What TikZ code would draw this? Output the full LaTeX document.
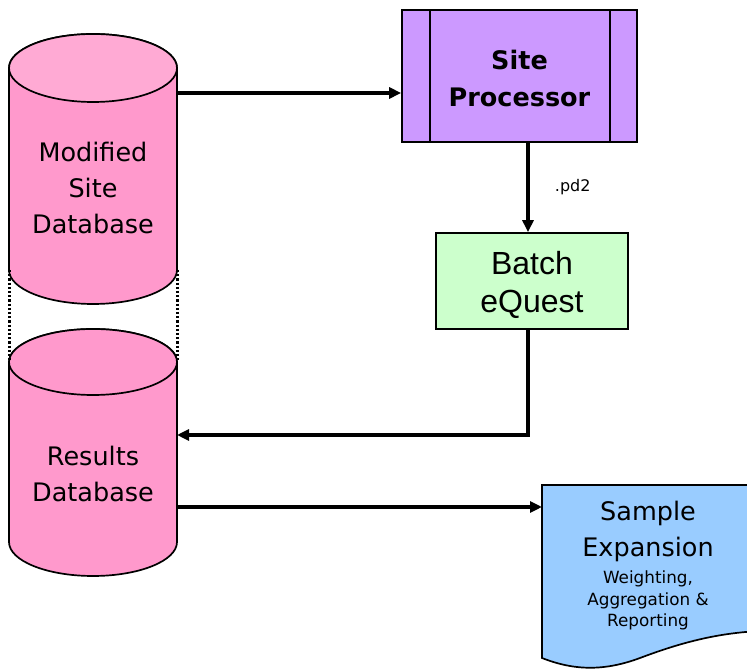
\documentclass[tikz,border=0pt]{standalone}
\usepackage{fontspec}
\setmainfont{DejaVu Sans}
\newfontfamily\arialfont{Liberation Sans}
\usetikzlibrary{arrows.meta}

\definecolor{cylbody}{HTML}{FF99CC}
\definecolor{cyltop}{HTML}{FFAAD4}
\definecolor{procfill}{HTML}{CC99FF}
\definecolor{batchfill}{HTML}{CCFFCC}
\definecolor{docfill}{HTML}{99CCFF}

\tikzset{
  outline/.style={draw=black, line width=1.7pt},
  arr/.style={line width=3.2pt, -{Triangle[length=12pt,width=11pt]}},
  geom/.style={inner sep=0pt, outer sep=0pt, minimum width=168pt},
  bigtext/.style={align=center, font=\fontsize{25.5}{36}\selectfont, inner sep=0pt},
  smalltext/.style={align=center, font=\fontsize{16.8}{21.5}\selectfont, inner sep=0pt},
  dotline/.style={line width=3pt, dash pattern=on 2.2pt off 2pt},
}

\begin{document}
\begin{tikzpicture}[x=1pt, y=1pt]
\useasboundingbox (0,0) rectangle (747,671);

% upper database cylinder
\draw[outline, fill=cylbody] (9,603) -- (9,401)
  arc[start angle=180, end angle=360, x radius=84pt, y radius=34pt]
  -- (177,603) arc[start angle=0, end angle=180, x radius=84pt, y radius=34pt] -- cycle;
\draw[outline, fill=cyltop] (93,603) ellipse[x radius=84pt, y radius=34pt];
\node[geom, minimum height=202pt] (mdb) at (93,502) {};
\node[bigtext] (mdbt) at (93,483) {Modified\\Site\\Database};

% lower database cylinder
\draw[outline, fill=cylbody] (9,309) -- (9,129)
  arc[start angle=180, end angle=360, x radius=84pt, y radius=34pt]
  -- (177,309) arc[start angle=0, end angle=180, x radius=84pt, y radius=33pt] -- cycle;
\draw[outline, fill=cylbody] (93,309) ellipse[x radius=84pt, y radius=33pt];
\node[geom, minimum height=180pt] (rdb) at (93,219) {};
\node[bigtext] (rdbt) at (93,197.5) {Results\\Database};

% dotted links between the two databases
\draw[dotline] (mdb.south west) -- (rdb.north west);
\draw[dotline] (mdb.south east) -- (rdb.north east);

% site processor (predefined process)
\node[outline, fill=procfill, minimum width=235pt, minimum height=132pt, inner sep=0pt]
  (sp) at (519.5,595) {};
\draw[outline] ([xshift=29pt]sp.north west) -- ([xshift=29pt]sp.south west);
\draw[outline] ([xshift=-28pt]sp.north east) -- ([xshift=-28pt]sp.south east);
\node[align=center, font=\fontsize{25.5}{37}\selectfont\bfseries, inner sep=0pt]
  (spt) at (519.5,592.5) {Site\\Processor};

% batch run
\node[outline, fill=batchfill, minimum width=192pt, minimum height=96pt, inner sep=0pt]
  (bq) at (532,390) {};
\node[align=center, font=\arialfont\fontsize{32}{38}\selectfont, inner sep=0pt]
  (bqt) at (532,386) {Batch\\eQuest};

% sample expansion document
\draw[outline, fill=docfill] (542,13) -- (542,186) -- (760,186) -- (760,40)
  .. controls (720,38) and (685,30) .. (640,13)
  .. controls (605,0) and (575,0) .. (542,13) -- cycle;
\node[inner sep=0pt, outer sep=0pt, minimum width=205pt, minimum height=173pt]
  (doc) at (644.5,99.5) {};
\node[bigtext] (doct) at (648,139.5) {Sample\\Expansion};
\node[smalltext] (docs) at (648,70.5) {Weighting,\\Aggregation \&\\Reporting};

% connectors
\coordinate (j1) at (0,578);
\coordinate (j2) at (528,0);
\coordinate (j3) at (0,236);
\coordinate (j4) at (0,164);
\draw[arr] (mdb.east |- j1) -- (sp.west |- j1);
\draw[arr] (sp.south -| j2) -- (bq.north -| j2)
  node[midway, right=22pt, font=\fontsize{16}{18}\selectfont] (pd) {.pd2};
\draw[arr] (bq.south -| j2) |- (rdb.east |- j3);
\draw[arr] (rdb.east |- j4) -- (doc.west |- j4);
\end{tikzpicture}
\end{document}
